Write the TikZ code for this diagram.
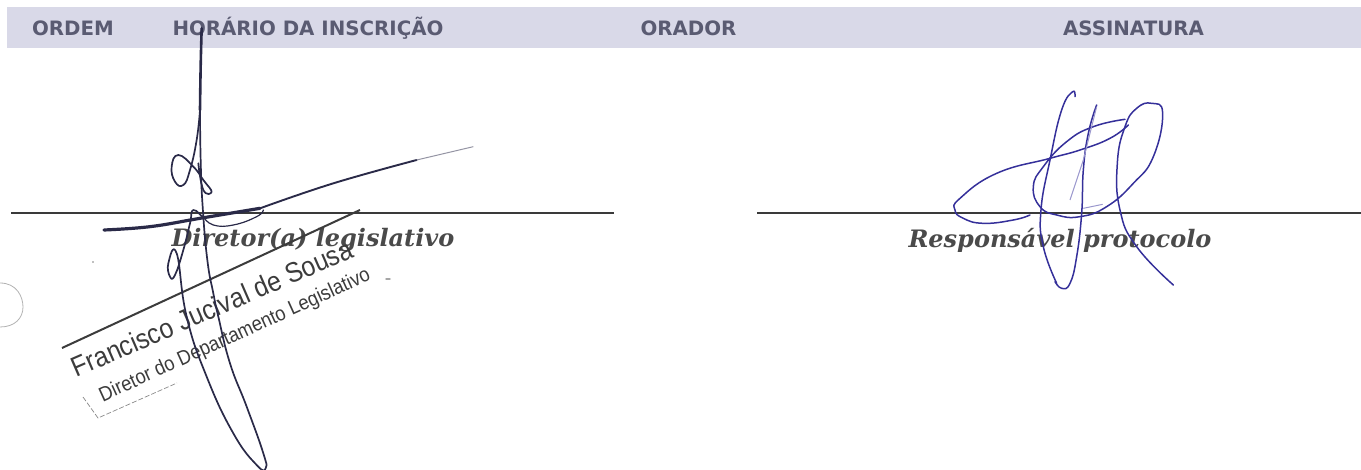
\documentclass[tikz,border=0pt]{standalone}
\usepackage{fontspec}
\setmainfont{DejaVu Sans}
\newfontfamily\serifbi{DejaVu Serif}
\newfontfamily\stampfont{Liberation Sans}
\definecolor{band}{HTML}{D9D9E8}
\definecolor{headtxt}{HTML}{5A5B72}
\definecolor{ruleline}{HTML}{3A3A3A}
\definecolor{sigtxt}{HTML}{4A4A4A}
\definecolor{penblack}{HTML}{2A2A48}
\definecolor{penblue}{HTML}{35309A}
\definecolor{stampink}{HTML}{3C3C3C}
\tikzset{
 head/.style={font=\fontsize{19.8}{22}\selectfont\bfseries,text=headtxt,inner sep=0pt,anchor=center},
 role/.style={font=\serifbi\fontsize{24}{26}\selectfont\bfseries\itshape,text=sigtxt,inner sep=0pt,anchor=center},
 rule/.style={draw=ruleline,line width=1.5pt},
 pen/.style={draw=penblack,line width=1.7pt,line join=round,line cap=round},
 bluepen/.style={draw=penblue,line width=1.5pt,line join=round,line cap=round},
 stampa/.style={font=\stampfont\fontsize{28}{34}\selectfont,text=stampink,inner sep=0pt,anchor=center},
 stampb/.style={font=\stampfont\fontsize{20.5}{24}\selectfont,text=stampink,inner sep=0pt,anchor=center}
}
\begin{document}
\begin{tikzpicture}[x=1pt,y=-1pt]
\useasboundingbox (0,0) rectangle (1361,470);
\fill[band] (7,7) rectangle (1361,48.5);
\node[head] (h1) at (73,28) {ORDEM};
\node[head] (h2) at (308,28) {HORÁRIO DA INSCRIÇÃO};
\node[head] (h3) at (688.5,28) {ORADOR};
\node[head] (h4) at (1133.5,28) {ASSINATURA};
\coordinate (l1a) at (11,213); \coordinate (l1b) at (614,213);
\coordinate (l2a) at (757,213); \coordinate (l2b) at (1361,213);
\draw[rule] (l1a) -- (l1b);
\draw[rule] (l2a) -- (l2b);
\node[role] (r1) at (313,240) {Diretor(a) legislativo};
\node[role] (r2) at (1060,240) {Responsável protocolo};
% stamp
\draw[stampink,line width=2pt] (62,348) -- (360,210);
\node[stampa,rotate=23.5] (s1) at (212,308) {\scalebox{.89}[1]{Francisco Jucival de Sousa}};
\node[stampb,rotate=24.5] (s2) at (235,336) {\scalebox{.9}[1]{Diretor do Departamento Legislativo}};
\draw[stampink!60,line width=.7pt,dash pattern=on 5pt off 2pt] (83,397) -- (98,418) -- (177,383);
\draw[gray!60,line width=.8pt] (0,283) .. controls (17,283) and (23,297) .. (23,307) .. controls (23,318) and (15,327) .. (0,327);
\fill[gray] (93,262) circle (.9);
\fill[gray!70] (388,279) ellipse (3 and 1);
% black signature
\begin{scope}[scale=1/3]
\draw[pen,line width=2.6pt] plot[smooth,tension=.8] coordinates {(605,85)(602,200)(600,330)};
\draw[pen] plot[smooth,tension=.8] coordinates {(600,330)(602,480)(608,620)(622,780)(640,880)(655,950)(690,1090)(740,1220)(790,1360)(797,1405)(770,1395)(700,1300)(620,1130)(560,950)(530,760)(505,790)(510,830)(525,825)(550,750)(570,670)(580,630)(610,655)};
\draw[pen] plot[smooth,tension=.8] coordinates {(600,330)(590,420)(570,510)(550,555)(525,545)(515,500)(535,465)(580,500)(610,540)(635,575)(610,570)(595,490)};
\draw[pen,line width=3.2pt] plot[smooth,tension=.7] coordinates {(312,690)(450,680)(600,655)(780,625)};
\draw[pen,line width=1.9pt] plot[smooth,tension=.7] coordinates {(780,625)(1000,550)(1250,480)};
\draw[penblack!50,line width=1pt] (1250,480) -- (1420,440);
\draw[pen,line width=1.2pt] plot[smooth,tension=.8] coordinates {(610,650)(640,675)(700,675)(770,650)(790,630)};
\end{scope}
% blue signature
\begin{scope}[shift={(880,70)},scale=1/3]
\draw[bluepen] plot[smooth,tension=.8] coordinates {(530,640)(490,530)(483,420)(510,270)(545,120)(578,65)(585,80)};
\draw[bluepen] plot[smooth,tension=.8] coordinates {(650,105)(625,190)(610,300)(605,430)(590,560)(570,640)(545,655)(525,635)};
\draw[bluepen] plot[smooth,tension=.8] coordinates {(735,148)(640,170)(560,215)(490,290)(460,350)(480,410)(530,435)(600,440)(680,410)(760,340)(820,260)(848,130)(815,100)(770,115)(735,170)(712,280)(720,420)(770,530)(880,645)};
\draw[bluepen] plot[smooth,tension=.8] coordinates {(745,165)(690,205)(600,240)(510,265)(350,310)(240,385)(225,420)(250,445)(310,460)(400,450)(450,435)};
\draw[penblue!50,line width=1pt] (650,110) -- (610,270) -- (570,390);
\draw[penblue!50,line width=1pt] (610,415) -- (668,403);
\end{scope}
\end{tikzpicture}
\end{document}
